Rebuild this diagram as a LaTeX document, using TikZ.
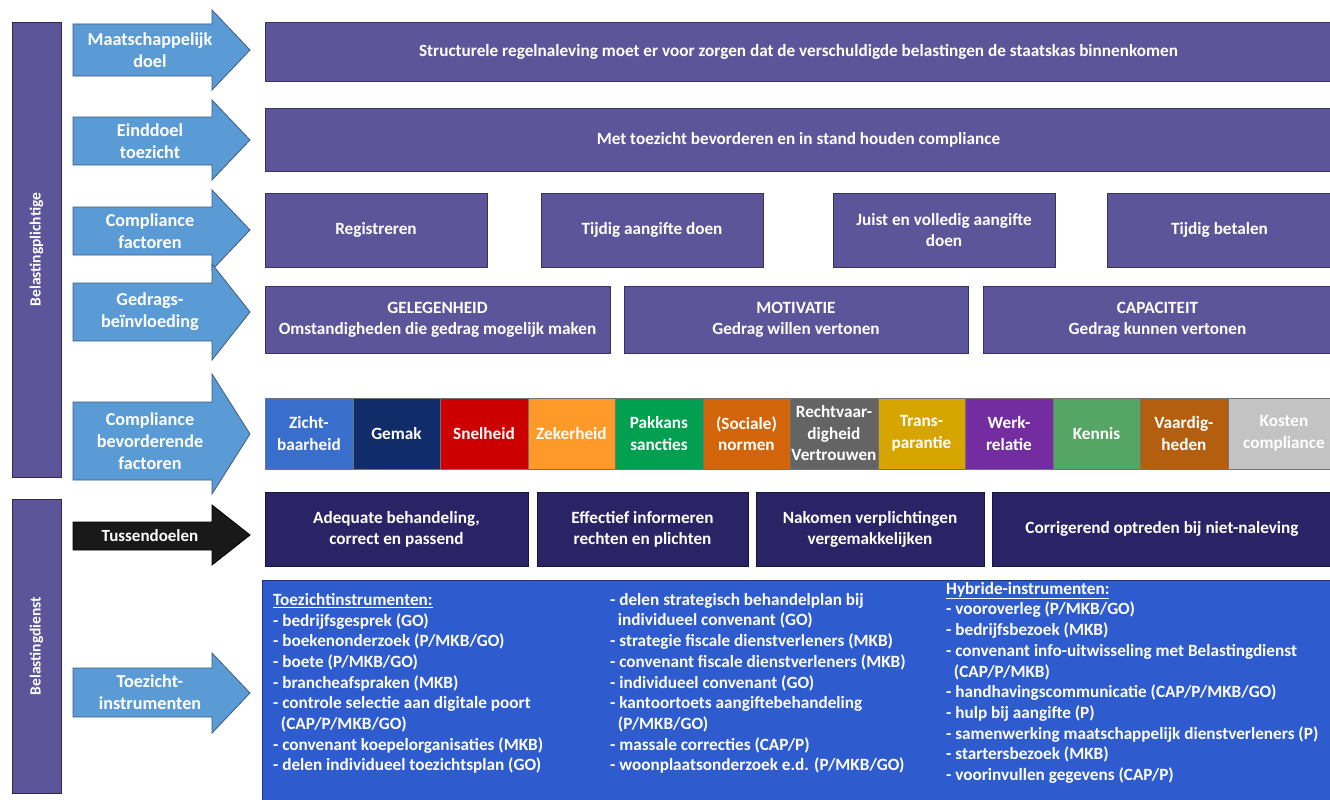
\documentclass[tikz,border=0pt]{standalone}
\usepackage{fontspec}
\setmainfont{Carlito}
\usetikzlibrary{positioning}

\definecolor{taxpurple}{RGB}{93,85,154}
\definecolor{taxnavy}{RGB}{42,36,102}
\definecolor{instrblue}{RGB}{46,92,206}
\definecolor{arrowblue}{RGB}{91,155,213}
\definecolor{arrowline}{RGB}{60,90,130}
\definecolor{cZicht}{RGB}{58,110,205}
\definecolor{cGemak}{RGB}{16,45,105}
\definecolor{cSnel}{RGB}{204,0,0}
\definecolor{cZeker}{RGB}{255,153,40}
\definecolor{cPakkans}{RGB}{0,160,80}
\definecolor{cSociaal}{RGB}{210,100,10}
\definecolor{cRecht}{RGB}{100,100,100}
\definecolor{cTrans}{RGB}{215,165,0}
\definecolor{cWerk}{RGB}{115,45,160}
\definecolor{cKennis}{RGB}{85,165,100}
\definecolor{cVaardig}{RGB}{180,95,15}
\definecolor{cKosten}{RGB}{195,195,195}

% name, body top, body bottom, head top, head bottom, text
\newcommand{\rowarrow}[7][arrowshape]{%
  \draw[#1] (73,#3) -- (212,#3) -- (212,#5) -- (250,{(#5+#6)/2}) -- (212,#6)
    -- (212,#4) -- (73,#4) -- cycle;
  \node[arrowtext] (#2) at (150,{(#3+#4)/2}) {#7};}

\begin{document}
\begin{tikzpicture}[x=1pt,y=-1pt,
    goalbox/.style={draw=taxpurple!60!black,fill=taxpurple,text=white,align=center,inner sep=0pt,
      font=\fontsize{17.2}{21}\selectfont\bfseries},
    subgoal/.style={goalbox,fill=taxnavy,draw=taxnavy!60!black},
    cell/.style={draw=black!55,text=white,align=center,inner sep=0pt,minimum height=71,
      font=\fontsize{17.2}{21.5}\selectfont\bfseries},
    sidebar/.style={draw=taxpurple!50!black,fill=taxpurple,text=white,inner sep=0pt,minimum width=49},
    sidetext/.style={rotate=90,text=white,font=\fontsize{15.5}{18}\selectfont\bfseries},
    arrowshape/.style={draw=arrowline,fill=arrowblue,line width=0.8pt},
    darkarrow/.style={draw=black,fill=black!90,line width=0.8pt},
    arrowtext/.style={text=white,align=center,inner sep=0pt,font=\fontsize{18.2}{22}\selectfont\bfseries},
    listtext/.style={text=white,align=left,inner sep=0pt,anchor=north west,
      font=\fontsize{17.2}{20.7}\selectfont\bfseries}]

\useasboundingbox[fill=white] (0,0) rectangle (1330,800);

% side bars
\node[sidebar,minimum height=455] (plichtige) at (36.5,249.5) {};
\node[sidetext] at (plichtige.center) {Belastingplichtige};
\node[sidebar,minimum height=294] (dienst) at (36.5,646) {};
\node[sidetext] at (dienst.center) {Belastingdienst};

% row arrows
\rowarrow{amaat}{24}{76}{10}{90}{Maatschappelijk\\doel}
\rowarrow{aeind}{117}{165}{100}{180}{Einddoel\\toezicht}
\rowarrow{afactor}{207}{255}{190}{270}{Compliance\\factoren}
\rowarrow{agedrag}{283}{341}{264}{360}{Gedrags-\\beïnvloeding}
\rowarrow{abevorder}{402}{480}{374}{494}{Compliance\\bevorderende\\factoren}
\rowarrow[darkarrow]{atussen}{522}{550}{505}{565}{\fontsize{17}{20}\selectfont Tussendoelen}
\rowarrow{ainstr}{668}{717}{653}{733}{Toezicht-\\instrumenten}

% goals
\node[goalbox,minimum width=1067,minimum height=59] (maat) at (798.5,51.5)
  {Structurele regelnaleving moet er voor zorgen dat de verschuldigde belastingen de staatskas binnenkomen};
\node[goalbox,minimum width=1067,minimum height=63] (eind) at (798.5,139.5)
  {Met toezicht bevorderen en in stand houden compliance};

% compliance factoren
\node[goalbox,minimum width=222,minimum height=74] (reg) at (376,230) {Registreren};
\node[goalbox,minimum width=222,minimum height=74] (tijdig) at (652,230) {Tijdig aangifte doen};
\node[goalbox,minimum width=222,minimum height=74] (juist) at (944,230) {Juist en volledig aangifte\\doen};
\node[goalbox,minimum width=225,minimum height=74] (betalen) at (1219.5,230) {Tijdig betalen};

% gedragsbeinvloeding
\node[goalbox,minimum width=345,minimum height=67] (gelegen) at (437.5,319.5)
  {GELEGENHEID\\Omstandigheden die gedrag mogelijk maken};
\node[goalbox,minimum width=344,minimum height=67] (motiv) at (796,319.5)
  {MOTIVATIE\\Gedrag willen vertonen};
\node[goalbox,minimum width=349,minimum height=67] (capac) at (1157.5,319.5)
  {CAPACITEIT\\Gedrag kunnen vertonen};

% compliance bevorderende factoren
\foreach \c/\t [count=\i from 0] in {cZicht/{Zicht-\\baarheid},cGemak/Gemak,cSnel/Snelheid,
    cZeker/Zekerheid,cPakkans/{Pakkans\\sancties},cSociaal/{(Sociale)\\normen},
    cRecht/{Rechtvaar-\\digheid\\Vertrouwen},cTrans/{Trans-\\parantie},cWerk/{Werk-\\relatie},
    cKennis/Kennis,cVaardig/{Vaardig-\\heden},cKosten/{Kosten\\compliance}}{
  \pgfmathsetmacro\w{\i==11 ? 112.5 : 87.5}
  \node[cell,fill=\c,minimum width=\w,anchor=west] (cell\i) at ({265+87.5*\i},433.5) {\t};
}

% tussendoelen
\node[subgoal,minimum width=263,minimum height=74] (adequaat) at (396.5,529)
  {Adequate behandeling,\\correct en passend};
\node[subgoal,minimum width=211,minimum height=74] (informeer) at (642.5,529)
  {Effectief informeren\\rechten en plichten};
\node[subgoal,minimum width=228,minimum height=74] (nakomen) at (870,529)
  {Nakomen verplichtingen\\vergemakkelijken};
\node[subgoal,minimum width=340,minimum height=74] (corrig) at (1162,529)
  {Corrigerend optreden bij niet-naleving};

% toezichtinstrumenten
\node[draw=instrblue!60!black,fill=instrblue,minimum width=1070,minimum height=222,inner sep=0pt]
  (instr) at (797,691) {};
\node[listtext] (lijst1) at (273,593) {\underline{Toezichtinstrumenten:}\\
  - bedrijfsgesprek (GO)\\
  - boekenonderzoek (P/MKB/GO)\\
  - boete (P/MKB/GO)\\
  - brancheafspraken (MKB)\\
  - controle selectie aan digitale poort\\
  \hspace*{0.45em}(CAP/P/MKB/GO)\\
  - convenant koepelorganisaties (MKB)\\
  - delen individueel toezichtsplan (GO)};
\node[listtext] (lijst2) at (610,593) {- delen strategisch behandelplan bij\\
  \hspace*{0.45em}individueel convenant (GO)\\
  - strategie fiscale dienstverleners (MKB)\\
  - convenant fiscale dienstverleners (MKB)\\
  - individueel convenant (GO)\\
  - kantoortoets aangiftebehandeling\\
  \hspace*{0.45em}(P/MKB/GO)\\
  - massale correcties (CAP/P)\\
  - woonplaatsonderzoek e.d. (P/MKB/GO)};
\node[listtext] (lijst3) at (946,582) {\underline{Hybride-instrumenten:}\\
  - vooroverleg (P/MKB/GO)\\
  - bedrijfsbezoek (MKB)\\
  - convenant info-uitwisseling met Belastingdienst\\
  \hspace*{0.45em}(CAP/P/MKB)\\
  - handhavingscommunicatie (CAP/P/MKB/GO)\\
  - hulp bij aangifte (P)\\
  - samenwerking maatschappelijk dienstverleners (P)\\
  - startersbezoek (MKB)\\
  - voorinvullen gegevens (CAP/P)};
\end{tikzpicture}
\end{document}
